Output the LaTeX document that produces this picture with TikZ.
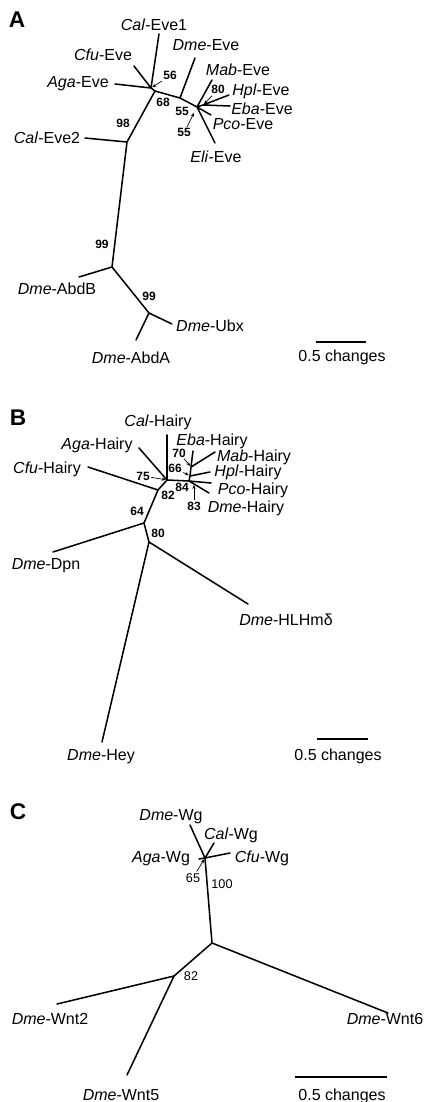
\documentclass[tikz,border=0pt]{standalone}
\usepackage{fontspec}
\setmainfont{Liberation Sans}
\usetikzlibrary{arrows.meta}
\newcommand{\gn}[2]{\textit{#1}-#2}

\begin{document}
\begin{tikzpicture}[x=0.75pt, y=-0.75pt]
\tikzset{every node/.style={inner sep=0pt, anchor=base, font=\fontsize{12}{14}\selectfont},
  branch/.style={line width=1.15pt, line cap=round, line join=round},
  boot/.style={inner sep=1pt, font=\fontsize{9}{10}\selectfont\bfseries},
  bootn/.style={inner sep=1pt, font=\fontsize{9.5}{11}\selectfont},
  pointer/.style={-{Stealth[length=3pt, width=2.4pt]}, line width=0.5pt, shorten >=1pt},
  panel/.style={font=\fontsize{17}{19}\selectfont\bfseries},
  scalebar/.style={line width=1.4pt}}
\useasboundingbox (0,0) rectangle (425,1102);

% A: Eve
\node[panel] (pA) at (17,28) {A};
\coordinate (a56) at (151,88);
\coordinate (a68) at (155,91);
\coordinate (aDm) at (180,98);
\coordinate (a55) at (197,107);
\coordinate (a80) at (203,105);
\coordinate (a98) at (127,142);
\coordinate (a99) at (112,267);
\coordinate (a99b) at (149,313);
\coordinate (aAga) at (115,84);
\coordinate (aCfu) at (134,66);
\coordinate (aCal1) at (159,34);
\coordinate (aDme) at (195,58);
\coordinate (aMab) at (212,80);
\coordinate (aHpl) at (229,95);
\coordinate (aEba) at (230,106);
\coordinate (aPco) at (211,115);
\coordinate (aEli) at (215,143);
\coordinate (aCal2) at (85,138);
\coordinate (aAbdB) at (79,277);
\coordinate (aUbx) at (172,324);
\coordinate (aAbdA) at (136,340);

\draw[branch] (a56) -- (aAga) (a56) -- (aCfu) (a56) -- (aCal1) (a56) -- (a68)
  (a68) -- (aDm) -- (a55) (aDm) -- (aDme)
  (a55) -- (aMab) (a55) -- (a80) (a80) -- (aHpl) (a80) -- (aEba) (a55) -- (aPco) (a55) -- (aEli)
  (a68) -- (a98) -- (aCal2) (a98) -- (a99) -- (aAbdB) (a99) -- (a99b) -- (aUbx) (a99b) -- (aAbdA);

\node (tCal1) at (154,31) {\gn{Cal}{Eve1}};
\node (tCfu) at (103,61) {\gn{Cfu}{Eve}};
\node (tAga) at (78,88) {\gn{Aga}{Eve}};
\node (tDme) at (206,51) {\gn{Dme}{Eve}};
\node (tMab) at (238,76) {\gn{Mab}{Eve}};
\node (tHpl) at (261,96) {\gn{Hpl}{Eve}};
\node (tEba) at (262,115) {\gn{Eba}{Eve}};
\node (tPco) at (243,130) {\gn{Pco}{Eve}};
\node (tEli) at (216,162) {\gn{Eli}{Eve}};
\node (tCal2) at (47,144) {\gn{Cal}{Eve2}};
\node (tAbdB) at (57,294) {\gn{Dme}{AbdB}};
\node (tUbx) at (210,331) {\gn{Dme}{Ubx}};
\node (tAbdA) at (131,363) {\gn{Dme}{AbdA}};

\node[boot] (n56) at (170,80) {56};
\node[boot] (n68) at (163,107) {68};
\node[boot] (n55) at (182,116) {55};
\node[boot] (n55b) at (184,137) {55};
\node[boot] (n80) at (218,94) {80};
\node[boot] (n98) at (123,128) {98};
\node[boot] (n99) at (102,248) {99};
\node[boot] (n99b) at (149,300) {99};
\draw[pointer] (n56) -- (a56);
\draw[pointer, shorten >=5pt] (n55b) -- (a55);
\draw[pointer] (n80) -- (a80);

\coordinate (sA1) at (316,342);
\coordinate (sA2) at (366,342);
\draw[scalebar] (sA1) -- (sA2);
\node (sA) at (342,361) {0.5 changes};

% B: Hairy
\node[panel] (pB) at (18,425) {B};
\coordinate (b82) at (158,490);
\coordinate (b75) at (167,480);
\coordinate (b84) at (189,481);
\coordinate (b66) at (190,476);
\coordinate (b70) at (191,467);
\coordinate (b64) at (144,523);
\coordinate (b80) at (149,542);
\coordinate (bCfu) at (88,467);
\coordinate (bAga) at (139,448);
\coordinate (bCal) at (167,435);
\coordinate (bEba) at (193,451);
\coordinate (bMab) at (215,452);
\coordinate (bHpl) at (210,472);
\coordinate (bPco) at (211,483);
\coordinate (bDme) at (209,493);
\coordinate (bDpn) at (53,552);
\coordinate (bHLH) at (248,604);
\coordinate (bHey) at (102,742);

\draw[branch] (b82) -- (bCfu) (b82) -- (b75) -- (bAga) (b75) -- (bCal)
  (b75) -- (b84) -- (b66) -- (b70) -- (bEba) (b70) -- (bMab) (b66) -- (bHpl)
  (b84) -- (bPco) (b84) -- (bDme)
  (b82) -- (b64) -- (bDpn) (b64) -- (b80) -- (bHLH) (b80) -- (bHey);

\node (uCal) at (158,426) {\gn{Cal}{Hairy}};
\node (uAga) at (97,449) {\gn{Aga}{Hairy}};
\node (uCfu) at (47,473) {\gn{Cfu}{Hairy}};
\node (uEba) at (212,445) {\gn{Eba}{Hairy}};
\node (uMab) at (254,461) {\gn{Mab}{Hairy}};
\node (uHpl) at (248,476) {\gn{Hpl}{Hairy}};
\node (uPco) at (253,494) {\gn{Pco}{Hairy}};
\node (uDme) at (246,512) {\gn{Dme}{Hairy}};
\node (uDpn) at (46,569) {\gn{Dme}{Dpn}};
\node (uHLH) at (286,625) {\gn{Dme}{HLHmδ}};
\node (uHey) at (101,760) {\gn{Dme}{Hey}};

\node[boot] (m75) at (143,480) {75};
\node[boot] (m66) at (175,472) {66};
\node[boot] (m70) at (179,457) {70};
\node[boot] (m84) at (182,491) {84};
\node[boot] (m82) at (168,499) {82};
\node[boot] (m83) at (194,510) {83};
\node[boot] (m64) at (137,515) {64};
\node[boot] (m80) at (158,537) {80};
\draw[pointer] (m75) -- (b75);
\draw[pointer] (m66) -- (b66);
\draw[pointer] (m70) -- (b70);
\draw[pointer, shorten >=3pt] (m83) -- (m83 |- b84);

\coordinate (sB1) at (317,739);
\coordinate (sB2) at (368,739);
\draw[scalebar] (sB1) -- (sB2);
\node (sB) at (338,760) {0.5 changes};

% C: Wg
\node[panel] (pC) at (18,819) {C};
\coordinate (c65) at (205,858);
\coordinate (c100) at (212,943);
\coordinate (c82) at (174,976);
\coordinate (cDme) at (190,825);
\coordinate (cCal) at (214,843);
\coordinate (cCfu) at (230,853);
\coordinate (cAga) at (199,859);
\coordinate (cWnt6) at (388,1013);
\coordinate (cWnt2) at (57,1004);
\coordinate (cWnt5) at (127,1075);

\draw[branch] (c65) -- (cDme) (c65) -- (cCal) (c65) -- (cCfu) (c65) -- (cAga)
  (c65) -- (c100) -- (cWnt6) (c100) -- (c82) -- (cWnt2) (c82) -- (cWnt5);

\node (vDme) at (171,820) {\gn{Dme}{Wg}};
\node (vCal) at (231,839) {\gn{Cal}{Wg}};
\node (vAga) at (161,862) {\gn{Aga}{Wg}};
\node (vCfu) at (262,862) {\gn{Cfu}{Wg}};
\node (vWnt6) at (385,1024) {\gn{Dme}{Wnt6}};
\node (vWnt2) at (50,1024) {\gn{Dme}{Wnt2}};
\node (vWnt5) at (121,1100) {\gn{Dme}{Wnt5}};

\node[bootn] (k65) at (193,882) {65};
\node[bootn] (k100) at (222,888) {100};
\node[bootn] (k82) at (191,980) {82};
\draw[pointer] (k65) -- (c65);

\coordinate (sC1) at (295,1077);
\coordinate (sC2) at (387,1077);
\draw[scalebar] (sC1) -- (sC2);
\node (sC) at (342,1100) {0.5 changes};

\end{tikzpicture}
\end{document}
